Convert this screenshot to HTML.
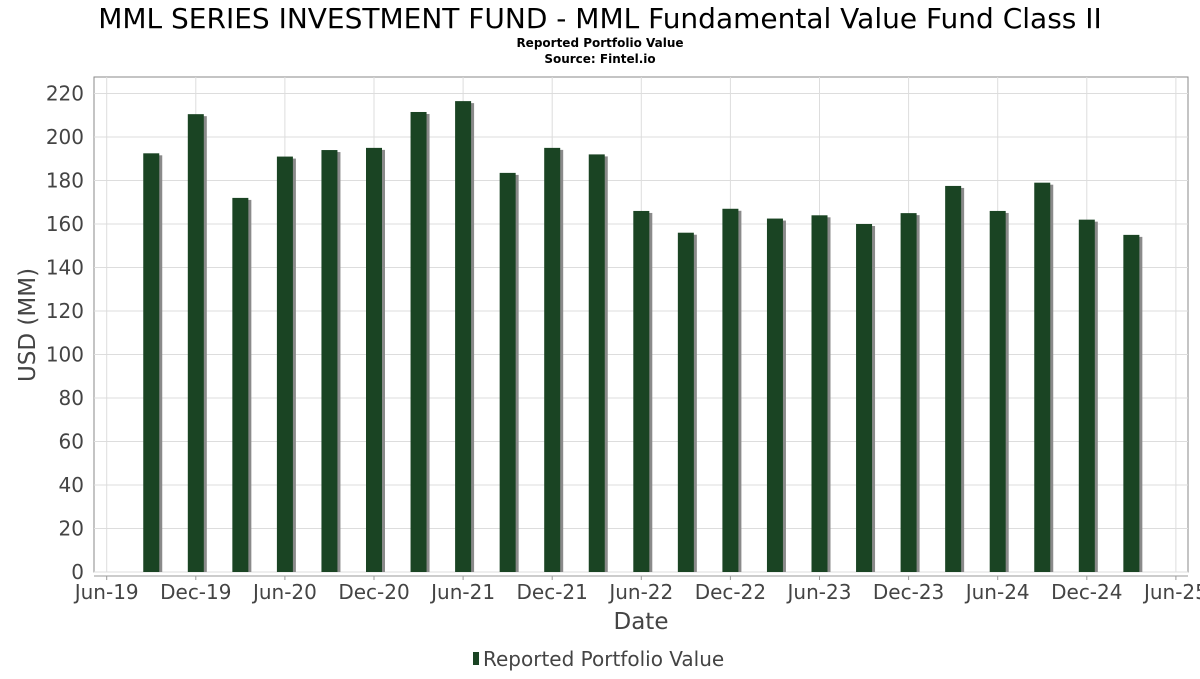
<!DOCTYPE html>
<html><head><meta charset="utf-8"><style>
body{margin:0;background:#fff;font-family:"DejaVu Sans","Liberation Sans",sans-serif;}
</style></head><body>
<svg id="chart" width="1200" height="675" viewBox="0 0 1200 675" xmlns="http://www.w3.org/2000/svg">
<text x="600" y="28" font-size="28" text-anchor="middle" fill="#000">MML SERIES INVESTMENT FUND - MML Fundamental Value Fund Class II</text>
<text x="600" y="47" font-size="12" font-weight="bold" text-anchor="middle">Reported Portfolio Value</text>
<text x="600" y="63" font-size="12" font-weight="bold" text-anchor="middle">Source: Fintel.io</text>
<rect x="94" y="77" width="1094" height="495" fill="#fff" stroke="#888"/>
<g id="grid"></g><g id="bars"></g><g id="axes"></g>
<text x="35" y="325" font-size="23" fill="#444" text-anchor="middle" transform="rotate(-90 35 325)">USD (MM)</text>
<text x="641" y="629" font-size="23" fill="#444" text-anchor="middle">Date</text>
<g>
<rect x="473" y="652" width="6" height="13" fill="#1a4423"/>
<text x="483" y="666" font-size="20" fill="#444">Reported Portfolio Value</text>
</g>
</svg>
<script>
const categories=["Sep-19","Dec-19","Mar-20","Jun-20","Sep-20","Dec-20","Mar-21","Jun-21","Sep-21","Dec-21","Mar-22","Jun-22","Sep-22","Dec-22","Mar-23","Jun-23","Sep-23","Dec-23","Mar-24","Jun-24","Sep-24","Dec-24","Mar-25"];
const values=[192.5,210.5,172,191,194,195,211.5,216.5,183.5,195,192,166,156,167,162.5,164,160,165,177.5,166,179,162,155];
const yTicks=[0,20,40,60,80,100,120,140,160,180,200,220];
const xTickLabels=["Jun-19","Dec-19","Jun-20","Dec-20","Jun-21","Dec-21","Jun-22","Dec-22","Jun-23","Dec-23","Jun-24","Dec-24","Jun-25"];
const NS="http://www.w3.org/2000/svg";
function y(v){return 572-v*2.175;}
function xMonth(m){return 106.7+m*14.85;}
function mk(t,a,p){const e=document.createElementNS(NS,t);for(const k in a)e.setAttribute(k,a[k]);p.appendChild(e);return e;}
const grid=document.getElementById('grid'),bars=document.getElementById('bars'),axes=document.getElementById('axes');
yTicks.forEach(v=>{
 const l=mk('line',{x1:94,x2:1188,y1:y(v),y2:y(v),stroke:'#ddd'},grid);
 
 
 const t=mk('text',{x:84,y:y(v)+7,'font-size':20,fill:'#444','text-anchor':'end'},axes);
 t.textContent=v;
 
 
});
xTickLabels.forEach((s,i)=>{
 const x=xMonth(i*6);
 const l=mk('line',{x1:x,x2:x,y1:77,y2:572,stroke:'#ddd'},grid);
 
 
 const k=mk('line',{x1:x,x2:x,y1:576,y2:580,stroke:'#999'},axes);
 
 
 const t=mk('text',{x:x,y:599,'font-size':20,fill:'#444','text-anchor':'middle'},axes);
 t.textContent=s;
 
 
});
const ax=mk('line',{x1:94,x2:1188,y1:576,y2:576,stroke:'#999'},axes);


values.forEach((v,i)=>{
 const cx=xMonth(3+i*3);
 const s=mk('rect',{x:cx-8+3,y:y(v)+2,width:16,height:572-y(v)-2,fill:'#8a8a8a'},bars);
 
 
 const b=mk('rect',{x:cx-8,y:y(v),width:16,height:572-y(v),fill:'#1a4423'},bars);
 
 
});
</script>
</body></html>
